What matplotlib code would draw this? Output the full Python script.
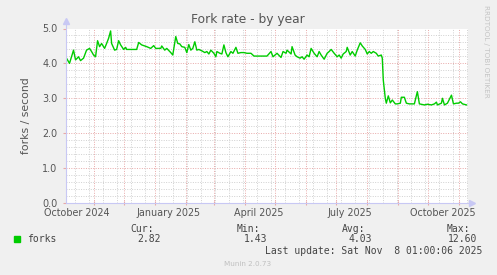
import numpy as np
import pandas as pd
import matplotlib
matplotlib.use("Agg")
import matplotlib.pyplot as plt
import matplotlib.dates as mdates

# day offsets from 2024-10-05 and fork rate (forks / second)
days = [0, 3, 7, 9, 12, 14, 17, 20, 23, 25, 27, 29, 31, 33, 35, 38, 40, 42, 44, 45,
        48, 50, 52, 54, 57, 59, 60, 70, 72, 75, 80, 84, 87, 89, 94, 95, 98, 100, 104, 106,
        109, 111, 113, 115, 118, 120, 122, 124, 126, 128, 130, 132, 135, 138, 140, 142, 144, 147, 149, 150,
        153, 155, 157, 159, 161, 164, 166, 169, 171, 174, 177, 180, 184, 187, 194, 200, 204, 206, 210, 214,
        216, 219, 220, 224, 225, 228, 230, 233, 235, 237, 240, 242, 244, 247, 250, 252, 254, 257, 260, 262,
        264, 267, 270, 272, 274, 276, 279, 280, 283, 285, 288, 290, 293, 295, 298, 300, 302, 304, 306, 309,
        311, 314, 315, 316, 318, 319, 321, 323, 325, 328, 330, 333, 334, 337, 339, 342, 344, 347, 350, 352,
        357, 360, 364, 367, 369, 370, 374, 375, 377, 380, 384, 386, 389, 391, 393, 395, 399]
forks = [4.15, 4.00, 4.38, 4.10, 4.19, 4.08, 4.15, 4.38, 4.43, 4.34, 4.24, 4.19, 4.65, 4.48, 4.57, 4.43, 4.57, 4.72, 4.93, 4.57,
         4.38, 4.40, 4.65, 4.53, 4.40, 4.46, 4.40, 4.40, 4.60, 4.53, 4.48, 4.43, 4.51, 4.43, 4.43, 4.50, 4.38, 4.43, 4.31, 4.24,
         4.77, 4.57, 4.56, 4.48, 4.46, 4.31, 4.54, 4.38, 4.43, 4.62, 4.38, 4.40, 4.36, 4.31, 4.34, 4.27, 4.38, 4.29, 4.19, 4.34,
         4.29, 4.27, 4.53, 4.31, 4.19, 4.34, 4.29, 4.46, 4.29, 4.31, 4.31, 4.29, 4.29, 4.21, 4.21, 4.21, 4.34, 4.19, 4.29, 4.17,
         4.34, 4.29, 4.38, 4.27, 4.48, 4.24, 4.19, 4.15, 4.19, 4.12, 4.24, 4.19, 4.43, 4.29, 4.19, 4.34, 4.24, 4.12, 4.29, 4.34,
         4.40, 4.29, 4.19, 4.24, 4.15, 4.27, 4.34, 4.46, 4.24, 4.34, 4.21, 4.38, 4.59, 4.50, 4.40, 4.27, 4.34, 4.29, 4.34, 4.29,
         4.21, 4.24, 4.15, 3.52, 3.00, 2.86, 3.07, 2.87, 2.95, 2.84, 2.84, 2.86, 3.03, 3.03, 2.86, 2.84, 2.84, 2.84, 3.19, 2.84,
         2.81, 2.83, 2.81, 2.84, 2.89, 2.81, 2.86, 3.00, 2.81, 2.86, 3.09, 2.84, 2.86, 2.86, 2.90, 2.84, 2.81]

stats_labels = ["Cur:", "Min:", "Avg:", "Max:"]
stats_values = ["2.82", "1.43", "4.03", "12.60"]
month_labels = ["October 2024", "January 2025", "April 2025", "July 2025", "October 2025"]
label_months = ["2024-10-15", "2025-01-15", "2025-04-15", "2025-07-15", "2025-10-15"]

dates = pd.Timestamp("2024-10-05") + pd.to_timedelta(days, unit="D")

W, H = 497, 275
fig = plt.figure(figsize=(W / 100, H / 100), dpi=100, facecolor="#F0F0F0")
L, R, T, B = 66, 468, 28.5, 203
ax = fig.add_axes([L / W, 1 - B / H, (R - L) / W, (B - T) / H], facecolor="white")

x0 = pd.Timestamp("2024-10-04 12:00")
x1 = pd.Timestamp("2025-11-09 12:00")
ax.set_xlim(x0, x1)
ax.set_ylim(0, 5)

minor_col = "#D0D0D0"
major_col = "#E8A8A8"
dots = (0, (1, 1.5))

# horizontal grid
for v in np.arange(0.2, 5.01, 0.2):
    major = abs(v - round(v)) < 1e-6
    ax.axhline(v, color=major_col if major else minor_col, lw=0.7, ls=dots, zorder=1)

# vertical grid: every two weeks minor, monthly major
for d in pd.date_range("2024-10-13", x1, freq="14D"):
    ax.axvline(d, color=minor_col, lw=0.7, ls=dots, zorder=1)
for d in pd.date_range("2024-11-01", x1, freq="MS"):
    ax.axvline(d, color=major_col, lw=0.7, ls=dots, zorder=1)

ax.plot(dates, forks, color="#00CC00", lw=1.0, zorder=3)

for s in ax.spines.values():
    s.set_visible(False)
axis_col = "#C8C8F4"
ax.plot([0, 0], [0, 1.04], transform=ax.transAxes, color=axis_col, lw=0.8, clip_on=False, zorder=4)
ax.plot([0, 1.005], [0, 0], transform=ax.transAxes, color=axis_col, lw=0.8, clip_on=False, zorder=4)
ax.plot([0], [1.045], transform=ax.transAxes, marker="^", ms=4, color=axis_col, clip_on=False)
ax.plot([1.01], [0], transform=ax.transAxes, marker=">", ms=4, color=axis_col, clip_on=False)

ax.set_yticks(np.arange(0, 5.01, 1.0))
ax.set_yticklabels([f"{v:.1f}" for v in np.arange(0, 5.01, 1.0)])
ax.tick_params(axis="y", length=2, color=major_col, labelsize=6.9, labelcolor="#555555", pad=4)

ax.set_xticks(pd.date_range("2024-11-01", x1, freq="MS"))
ax.set_xticklabels([])
ax.tick_params(axis="x", length=2.5, color=major_col, direction="inout")
for lab, m in zip(month_labels, label_months):
    ax.text(pd.Timestamp(m), -0.058, lab, transform=ax.get_xaxis_transform(),
            ha="center", va="center", fontsize=6.9, color="#555555")

ax.set_ylabel("forks / second", fontsize=7.8, color="#555555", labelpad=8)

fig.text(248 / W, 1 - 19 / H, "Fork rate - by year", ha="center", va="center",
         fontsize=8.8, color="#555555")
fig.text(486 / W, 1 - 5 / H, "RRDTOOL / TOBI OETIKER", rotation=270, ha="center", va="top",
         fontsize=5.2, color="#C4C4C4")

mono = "DejaVu Sans Mono"
fig.patches.append(plt.Rectangle((14 / W, 1 - 242 / H), 6 / W, 6 / H,
                                 transform=fig.transFigure, color="#00CC00"))
fig.text(27 / W, 1 - 239 / H, "forks", family=mono, fontsize=7, color="#444444", va="center")
stat_x = [154, 260, 365, 470]
for lab, val, xr in zip(stats_labels, stats_values, stat_x):
    fig.text(xr / W, 1 - 228.5 / H, lab, family=mono, fontsize=7, color="#444444", ha="right", va="center")
    fig.text((xr + 7) / W, 1 - 239.5 / H, val, family=mono, fontsize=7, color="#444444", ha="right", va="center")
fig.text(482 / W, 1 - 251 / H, "Last update: Sat Nov  8 01:00:06 2025", family=mono, fontsize=7,
         color="#444444", ha="right", va="center")
fig.text(248 / W, 1 - 264 / H, "Munin 2.0.73", fontsize=5.2, color="#C0C0C0", ha="center", va="center")

fig.savefig("out.png", dpi=100, facecolor=fig.get_facecolor())
